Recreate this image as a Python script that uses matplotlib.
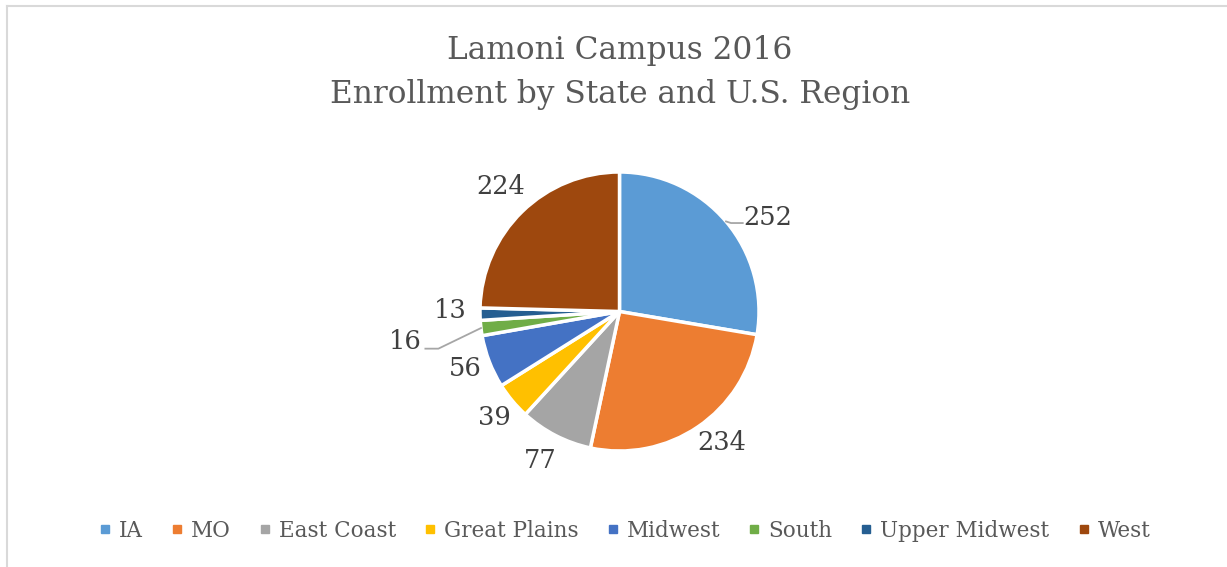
import numpy as np
import matplotlib
matplotlib.use("Agg")
import matplotlib.pyplot as plt
from matplotlib.lines import Line2D

# ---- data -------------------------------------------------------------------
REGIONS = ["IA", "MO", "East Coast", "Great Plains", "Midwest", "South",
           "Upper Midwest", "West"]
COUNTS = [252, 234, 77, 39, 56, 16, 13, 224]
COLORS = ["#5B9BD5", "#ED7D31", "#A5A5A5", "#FFC000", "#4472C4", "#70AD47",
          "#255E91", "#9E480E"]
TITLE = "Lamoni Campus 2016\nEnrollment by State and U.S. Region"

# label layout: radial distance (in radii) and angle tweak (deg) per slice
LAB_R = [1.26, 1.19, 1.21, 1.18, 1.18, 1.55, 1.215, 1.24]
LAB_DA = [-7.7, 3.9, -0.9, 0.5, -0.7, 1.2, -1.4, -0.7]
LEADER = [True, False, False, False, False, True, False, False]

W, H = 1227, 567
CX, CY, R = 619.5, H - 311.5, 139.5   # pie centre / radius in pixels

plt.rcParams["font.family"] = ["DejaVu Serif"]

fig = plt.figure(figsize=(W / 100, H / 100), dpi=100)
ax = fig.add_axes([0, 0, 1, 1])

wedges, _ = ax.pie(COUNTS, colors=COLORS, startangle=90, counterclock=False,
                   center=(CX, CY), radius=R, frame=True,
                   wedgeprops=dict(edgecolor="white", linewidth=2.5))
ax.set_xlim(0, W)
ax.set_ylim(0, H)
ax.axis("off")

for i, (w, v) in enumerate(zip(wedges, COUNTS)):
    mid = np.deg2rad((w.theta1 + w.theta2) / 2)
    ang = mid + np.deg2rad(LAB_DA[i])
    lx = CX + LAB_R[i] * R * np.cos(ang)
    ly = CY + LAB_R[i] * R * np.sin(ang)
    ax.text(lx, ly, str(v), ha="center", va="center", fontsize=18.5,
            color="#404040")
    if LEADER[i]:
        ex, ey = CX + R * np.cos(mid), CY + R * np.sin(mid)
        if lx > CX:
            ax.plot([ex, ex + 5, lx - 25], [ey, ly - 6, ly - 6],
                    color="#A6A6A6", lw=1.3)
        else:
            kx, ky = lx + 33, ly - 7
            ax.plot([ex, kx, lx + 20], [ey, ky, ky], color="#A6A6A6", lw=1.3)

fig.text(620 / W, 1 - 72.5 / H, TITLE, ha="center", va="center",
         fontsize=22.5, color="#595959", linespacing=1.5)

handles = [Line2D([], [], marker="s", ls="", color=c, markersize=5.3)
           for c in COLORS]
fig.legend(handles, REGIONS, loc="center", bbox_to_anchor=(625 / W, 1 - 531 / H),
           ncol=len(REGIONS), frameon=False, fontsize=15.5, handlelength=0.5,
           handletextpad=0.4, columnspacing=1.33, labelcolor="#595959")

# chart area border (only top and left edges visible in the crop)
fig.add_artist(Line2D([6.5 / W, 1], [1 - 5.5 / H, 1 - 5.5 / H],
                      transform=fig.transFigure, color="#D9D9D9", lw=1.5))
fig.add_artist(Line2D([6.5 / W, 6.5 / W], [0, 1 - 5.5 / H],
                      transform=fig.transFigure, color="#D9D9D9", lw=1.5))

fig.savefig("out.png", dpi=100)
